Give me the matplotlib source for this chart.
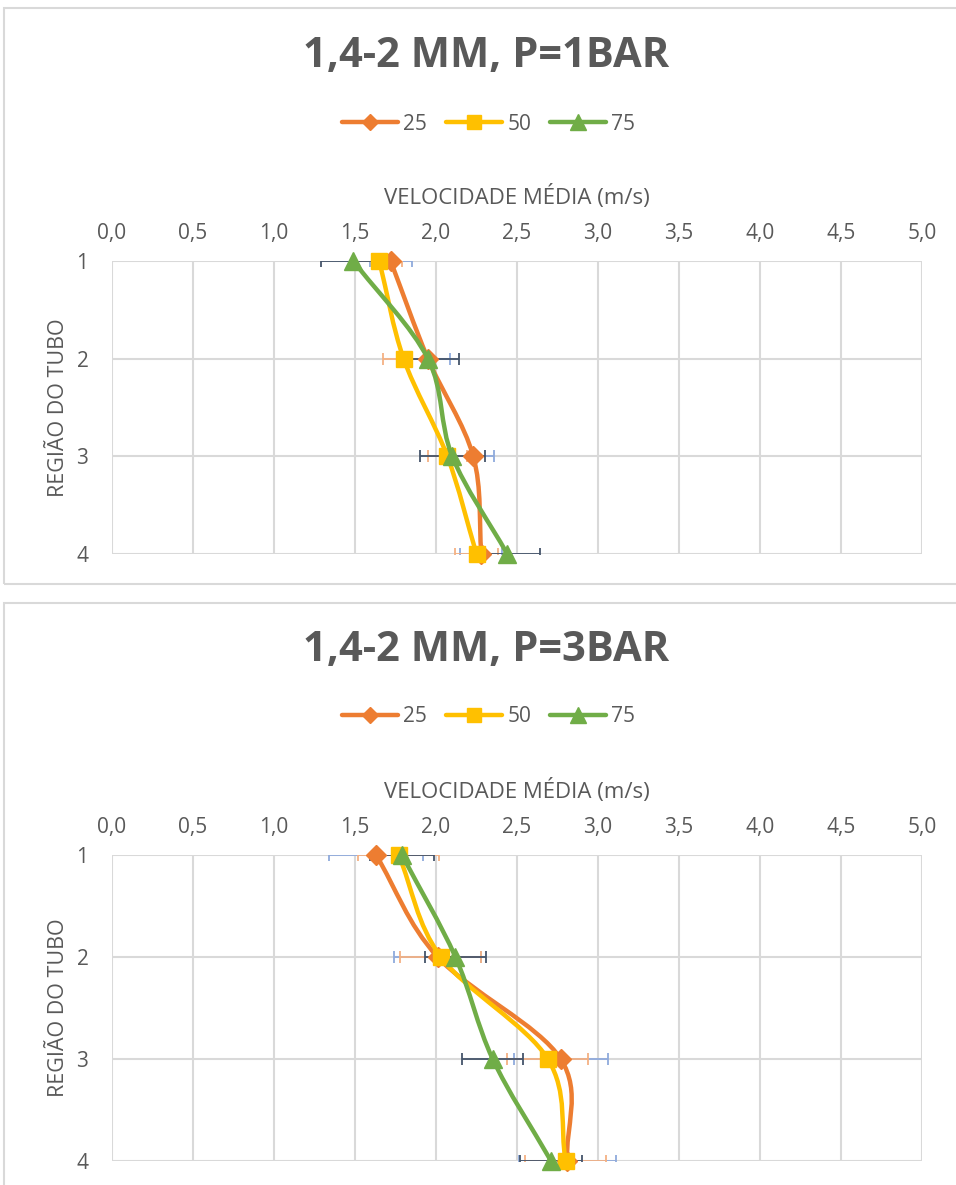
import matplotlib.pyplot as plt
from matplotlib.path import Path
from matplotlib.patches import PathPatch, Rectangle
from matplotlib.lines import Line2D

plt.rcParams['font.family'] = ['Open Sans', 'DejaVu Sans']

regions = [1, 2, 3, 4]
xticks = [0.0, 0.5, 1.0, 1.5, 2.0, 2.5, 3.0, 3.5, 4.0, 4.5, 5.0]
series_names = ['25', '50', '75']

# P = 1 bar
v25_p1 = [1.72, 1.95, 2.23, 2.28]
v50_p1 = [1.65, 1.80, 2.07, 2.25]
v75_p1 = [1.49, 1.95, 2.10, 2.44]
e25_p1 = [0.13, 0.135, 0.13, 0.13]
e50_p1 = [0.14, 0.13, 0.12, 0.13]
e75_p1 = [0.20, 0.19, 0.20, 0.20]

# P = 3 bar
v25_p3 = [1.63, 2.01, 2.77, 2.81]
v50_p3 = [1.77, 2.03, 2.69, 2.80]
v75_p3 = [1.79, 2.12, 2.35, 2.71]
e25_p3 = [0.29, 0.27, 0.29, 0.30]
e50_p3 = [0.25, 0.25, 0.25, 0.25]
e75_p3 = [0.20, 0.19, 0.19, 0.19]

colors = ['#ED7D31', '#FFC000', '#70AD47']
err_colors = ['#8FAADC', '#F4B183', '#44546A']
markers = ['D', 's', '^']
msizes = [10, 12, 13]
grey = '#595959'


def smooth_path(xs, ys):
    # catmull-rom style bezier through the points (like excel smoothed lines)
    pts = list(zip(xs, ys))
    n = len(pts)
    verts = [pts[0]]
    codes = [Path.MOVETO]
    for i in range(n - 1):
        p0 = pts[i - 1] if i > 0 else pts[i]
        p1 = pts[i]
        p2 = pts[i + 1]
        p3 = pts[i + 2] if i + 2 < n else pts[i + 1]
        k1 = 6.0 if i > 0 else 3.0
        k2 = 6.0 if i + 2 < n else 3.0
        c1 = (p1[0] + (p2[0] - p0[0]) / k1, p1[1] + (p2[1] - p0[1]) / k1)
        c2 = (p2[0] - (p3[0] - p1[0]) / k2, p2[1] - (p3[1] - p1[1]) / k2)
        verts += [c1, c2, p2]
        codes += [Path.CURVE4] * 3
    return Path(verts, codes)


def panel(fig, box, rect, title, title_y, legend_y, vals, errs):
    fig.patches.append(Rectangle((box[0], box[1]), box[2], box[3], transform=fig.transFigure,
                                 fill=False, edgecolor='#D9D9D9', linewidth=1.5))
    ax = fig.add_axes(rect)
    ax.set_xlim(0, 5)
    ax.set_ylim(4, 1)
    ax.set_xticks(xticks)
    ax.set_xticklabels([('%.1f' % t).replace('.', ',') for t in xticks])
    ax.set_yticks(regions)
    ax.xaxis.set_ticks_position('top')
    ax.xaxis.set_label_position('top')
    ax.tick_params(length=0, labelsize=15, colors=grey, pad=12)
    ax.tick_params(axis='y', pad=17)
    ax.grid(True, color='#D9D9D9', linewidth=1.5)
    ax.set_axisbelow(True)
    for s in ax.spines.values():
        s.set_visible(False)
    ax.set_xlabel('VELOCIDADE MÉDIA (m/s)', fontsize=16, color=grey, labelpad=14)
    ax.set_ylabel('REGIÃO DO TUBO', fontsize=15.5, color=grey, labelpad=5)

    for i in range(3):
        ax.errorbar(vals[i], regions, xerr=errs[i], fmt='none', ecolor=err_colors[i],
                    elinewidth=1.3, capsize=4, capthick=1.3, zorder=2)
    for i in range(3):
        ax.add_patch(PathPatch(smooth_path(vals[i], regions), fill=False,
                               edgecolor=colors[i], linewidth=3.2, zorder=3 + i,
                               capstyle='round', joinstyle='round'))
        ax.plot(vals[i], regions, ls='none', marker=markers[i], ms=msizes[i],
                color=colors[i], zorder=3 + i, clip_on=False)

    fig.text(0.508, title_y, title, ha='center', va='center', fontsize=30,
             fontweight='bold', color=grey)
    handles = [Line2D([], [], color=colors[i], lw=3.2, marker=markers[i], ms=msizes[i] * 0.85,
                      solid_capstyle='round')
               for i in range(3)]
    fig.legend(handles, series_names, loc='center', bbox_to_anchor=(0.511, legend_y),
               ncol=3, frameon=False, fontsize=15, handlelength=2.7, columnspacing=0.9,
               handletextpad=0.25, labelcolor=grey)
    return ax


W, H = 956, 1185
fig = plt.figure(figsize=(W / 100, H / 100), dpi=100)


def fy(px):
    return 1 - px / H


panel(fig, (4 / W, fy(584), 1.0, (584 - 8) / H),
      [112 / W, fy(554), 810 / W, (554 - 261) / H],
      '1,4-2 MM, P=1BAR', fy(57), fy(124),
      [v25_p1, v50_p1, v75_p1], [e25_p1, e50_p1, e75_p1])

panel(fig, (4 / W, fy(1200), 1.0, (1200 - 603) / H),
      [112 / W, fy(1161), 810 / W, (1161 - 855) / H],
      '1,4-2 MM, P=3BAR', fy(651), fy(717),
      [v25_p3, v50_p3, v75_p3], [e25_p3, e50_p3, e75_p3])

fig.savefig('out.png', dpi=100)
